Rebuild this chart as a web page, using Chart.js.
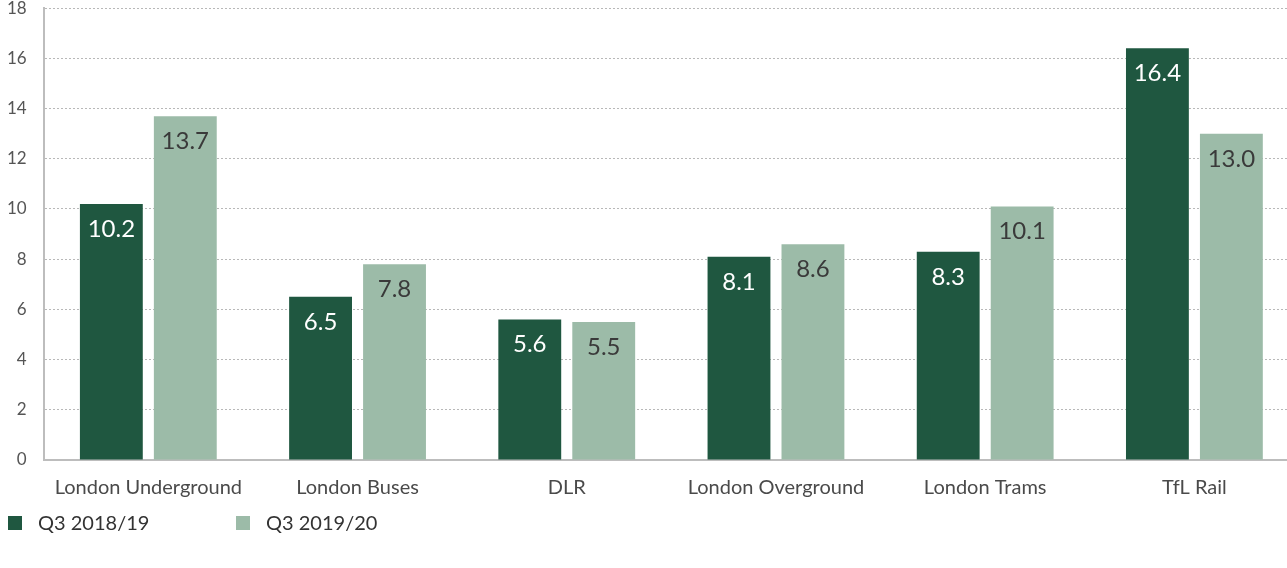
<!DOCTYPE html>
<html>
<head>
<meta charset="utf-8">
<script src="https://cdn.jsdelivr.net/npm/chart.js@4"></script>
<style>
  html, body { margin: 0; padding: 0; background: #fff; }
  #wrap { width: 1287px; height: 568px; position: relative; overflow: hidden; }
  #inner { position: absolute; left: 0; top: -19px; width: 1299px; height: 587px; }
</style>
</head>
<body>
<div id="wrap"><div id="inner"><canvas id="bars"></canvas></div></div>
<script>
// data
const categories = ['London Underground', 'London Buses', 'DLR', 'London Overground', 'London Trams', 'TfL Rail'];
const q3_2018 = [10.2, 6.5, 5.6, 8.1, 8.3, 16.4];
const q3_2019 = [13.7, 7.8, 5.5, 8.6, 10.1, 13.0];
const seriesNames = ['Q3 2018/19', 'Q3 2019/20'];
const yTicks = [0, 2, 4, 6, 8, 10, 12, 14, 16, 18];

const FONT = 'Lato, "Open Sans", sans-serif';

// value labels drawn inside the top of each bar
const barLabels = {
    id: 'barLabels',
    afterDatasetsDraw(chart) {
        const ctx = chart.ctx;
        ctx.save();
        ctx.font = '24px ' + FONT;
        ctx.textAlign = 'center';
        ctx.textBaseline = 'alphabetic';
        chart.data.datasets.forEach((ds, i) => {
            ctx.fillStyle = i === 0 ? '#ffffff' : '#3a3a3a';
            chart.getDatasetMeta(i).data.forEach((bar, j) => {
                ctx.fillText(ds.data[j].toFixed(1), bar.x, bar.y + 33);
            });
        });
        ctx.restore();
    }
};

// simple legend along the bottom left
const bottomLegend = {
    id: 'bottomLegend',
    afterDraw(chart) {
        const ctx = chart.ctx;
        const y = chart.height - 45;
        const slots = [8, 236];
        ctx.save();
        ctx.font = '20px ' + FONT;
        ctx.textBaseline = 'middle';
        ctx.textAlign = 'left';
        chart.data.datasets.forEach((ds, i) => {
            ctx.fillStyle = ds.backgroundColor;
            ctx.fillRect(slots[i], y - 7, 14, 14);
            ctx.fillStyle = '#333';
            ctx.fillText(ds.label, slots[i] + 30, y + 1);
        });
        ctx.restore();
    }
};

function initBarChart() {
    const ctx = document.getElementById('bars').getContext('2d');
    new Chart(ctx, {
        type: 'bar',
        data: {
            labels: categories,
            datasets: [
                { label: seriesNames[0], data: q3_2018, backgroundColor: '#1f5740' },
                { label: seriesNames[1], data: q3_2019, backgroundColor: '#9cbba8' }
            ]
        },
        options: {
            responsive: true,
            maintainAspectRatio: false,
            animation: false,
            layout: { padding: { top: 0, left: -10, right: 0, bottom: 52 } },
            datasets: { bar: { categoryPercentage: 0.707, barPercentage: 0.85 } },
            scales: {
                x: {
                    grid: { display: false, drawTicks: false },
                    border: { color: '#bdbdbd', width: 2 },
                    ticks: { color: '#4a4a4a', font: { family: FONT, size: 20 }, padding: 16 }
                },
                y: {
                    min: 0,
                    max: 18,
                    afterBuildTicks: axis => { axis.ticks = yTicks.map(v => ({ value: v })); },
                    grid: { color: '#b8b8b8', lineWidth: 1, drawTicks: false },
                    border: { color: '#bdbdbd', width: 2, dash: [2, 2] },
                    ticks: { color: '#555', font: { family: FONT, size: 17 }, padding: 17 }
                }
            },
            plugins: {
                legend: { display: false },
                tooltip: { enabled: false }
            }
        },
        plugins: [barLabels, bottomLegend]
    });
}

document.addEventListener('DOMContentLoaded', initBarChart);
</script>
</body>
</html>
